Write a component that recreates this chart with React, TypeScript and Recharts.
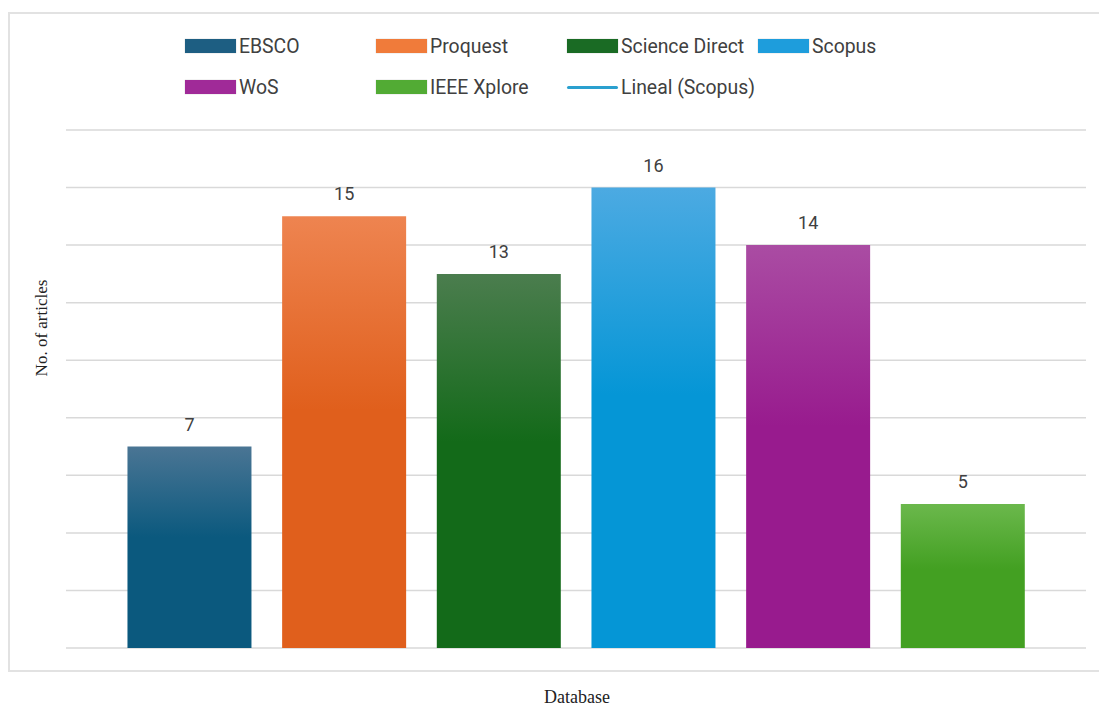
import React from 'react';
import { BarChart, Bar, XAxis, YAxis, CartesianGrid, Cell, LabelList } from 'recharts';

const databases = ['EBSCO', 'Proquest', 'Science Direct', 'Scopus', 'WoS', 'IEEE Xplore'];
const articleCounts = [7, 15, 13, 16, 14, 5];
const yTicks = [0, 2, 4, 6, 8, 10, 12, 14, 16, 18];

// top / bottom colour of each bar gradient
const barTops = ['#4a7594', '#ee8450', '#4b7d4e', '#4caae2', '#aa4ca3', '#6bb84c'];
const barBottoms = ['#0b597e', '#e05f1c', '#136a19', '#0596d6', '#981b8e', '#43a022'];
const swatchColors = ['#1d5e82', '#f07b3a', '#1a6b24', '#1e9ddc', '#a02a98', '#52ab34'];

const data = databases.map((name, i) => ({ name, articles: articleCounts[i] }));

const legendRows = [
  [0, 1, 2, 3],
  [4, 5, -1],
];

const legendFont = 'Roboto, sans-serif';

const LegendBlock = () => (
  <div style={{ position: 'absolute', left: 185, top: 34, fontFamily: legendFont, fontSize: 19.4, color: '#404040', whiteSpace: 'nowrap' }}>
    {legendRows.map((row, r) => (
      <div key={r} style={{ display: 'flex', height: 24, marginBottom: r === 0 ? 17 : 0 }}>
        {row.map((idx) => (
          <div key={idx} style={{ display: 'flex', alignItems: 'center', width: 191, flexShrink: 0 }}>
            {idx >= 0 ? (
              <span style={{ width: 51, height: 14, background: swatchColors[idx], marginRight: 3, flexShrink: 0, boxShadow: '0 0 1px rgba(0,0,0,0.3)' }} />
            ) : (
              <span style={{ width: 51, height: 3, background: '#2aa0cf', marginRight: 3, flexShrink: 0, borderRadius: 2 }} />
            )}
            <span>{idx >= 0 ? databases[idx] : 'Lineal (Scopus)'}</span>
          </div>
        ))}
      </div>
    ))}
  </div>
);

export default function App() {
  return (
    <div style={{ position: 'absolute', left: 0, top: 0, width: 1099, height: 706, background: '#fff', overflow: 'hidden' }}>
      <div style={{ position: 'absolute', left: 8, top: 12, width: 1100, height: 660, border: '2px solid #e2e2e2', boxSizing: 'border-box' }} />
      <BarChart
        width={1099}
        height={706}
        data={data}
        margin={{ top: 130, right: 13, bottom: 58, left: 66 }}
        barCategoryGap="10%"
        style={{ position: 'absolute', left: 0, top: 0 }}
      >
        <defs>
          {databases.map((_, i) => (
            <linearGradient key={i} id={`grad-${i}`} x1="0" y1="0" x2="0" y2="1">
              <stop offset="0%" stopColor={barTops[i]} />
              <stop offset="45%" stopColor={barBottoms[i]} />
              <stop offset="100%" stopColor={barBottoms[i]} />
            </linearGradient>
          ))}
        </defs>
        <CartesianGrid vertical={false} stroke="#d9d9d9" strokeWidth={1.5} />
        <XAxis dataKey="name" tick={false} axisLine={false} tickLine={false} height={0} padding={{ left: 46, right: 46 }} />
        <YAxis domain={[0, 18]} ticks={yTicks} hide width={0} />
        <Bar dataKey="articles" isAnimationActive={false}>
          {data.map((_, i) => (
            <Cell key={i} fill={`url(#grad-${i})`} />
          ))}
          <LabelList dataKey="articles" position="top" offset={16} fill="#404040" fontSize={18} fontFamily={legendFont} />
        </Bar>
      </BarChart>
      <LegendBlock />
      <div
        style={{
          position: 'absolute',
          left: 42,
          top: 328,
          transform: 'translate(-50%, -50%) rotate(-90deg)',
          fontFamily: '"Liberation Serif", "Times New Roman", serif',
          fontSize: 17,
          color: '#222',
          whiteSpace: 'nowrap',
        }}
      >
        No. of articles
      </div>
      <div
        style={{
          position: 'absolute',
          left: 577,
          top: 697,
          transform: 'translate(-50%, -50%)',
          fontFamily: '"Liberation Serif", "Times New Roman", serif',
          fontSize: 18,
          color: '#222',
        }}
      >
        Database
      </div>
    </div>
  );
}
